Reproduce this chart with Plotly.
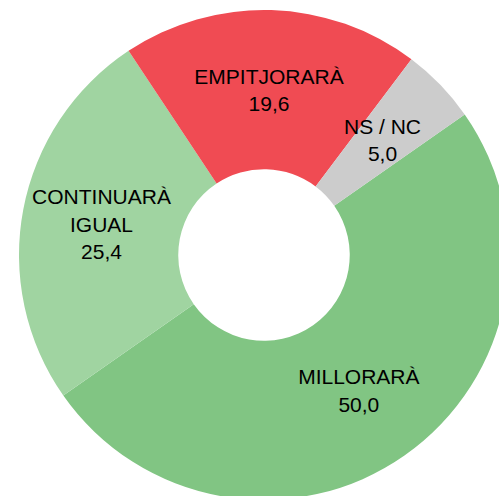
import math
import plotly.graph_objects as go

labels = ["MILLORARÀ", "CONTINUARÀ<br>IGUAL", "EMPITJORARÀ", "NS / NC"]
values = [50.0, 25.4, 19.6, 5.0]
value_text = ["50,0", "25,4", "19,6", "5,0"]
colors = ["#81C583", "#A0D4A1", "#F04B53", "#CCCCCC"]

# figure / pie geometry (pixels)
W, H = 520, 510
CX, CY, R = 264, 255, 245
HOLE = 0.35
ROTATION = 55
FONT = dict(family="Liberation Sans, Arial, sans-serif", size=21, color="#000000")

# small slices whose label plotly would push outward: label them by annotation
positions = ["inside", "inside", "inside", "none"]

fig = go.Figure(go.Pie(
    labels=labels,
    values=values,
    text=value_text,
    texttemplate="%{label}<br>%{text}",
    textposition=positions,
    insidetextorientation="horizontal",
    sort=False,
    direction="clockwise",
    rotation=ROTATION,
    hole=HOLE,
    marker=dict(colors=colors, line=dict(width=0)),
    textfont=FONT,
    showlegend=False,
    hoverinfo="label+text",
    domain=dict(x=[(CX - R) / W, (CX + R) / W],
                y=[(H - CY - R) / H, (H - CY + R) / H]),
))

# annotation labels at the ring middle of slice mid-angles
total = sum(values)
cum = 0.0
for lab, val, txt, pos in zip(labels, values, value_text, positions):
    mid = ROTATION + (cum + val / 2) / total * 360
    cum += val
    if pos != "none":
        continue
    rmid = R * (1 + HOLE) / 2
    px = CX + rmid * math.sin(math.radians(mid))
    py = CY - rmid * math.cos(math.radians(mid))
    fig.add_annotation(
        x=px / W, y=1 - py / H, xref="paper", yref="paper",
        text=f"{lab}<br>{txt}", showarrow=False, font=FONT,
        xanchor="center", yanchor="middle", align="center",
    )

fig.update_layout(
    width=W,
    height=H,
    margin=dict(l=0, r=0, t=0, b=0),
    paper_bgcolor="#FFFFFF",
    uniformtext=dict(minsize=21, mode="show"),
)

fig.write_html(
    "out.html",
    config={"displayModeBar": False},
    post_script="document.body.style.margin='0';document.body.style.overflow='hidden';",
)
